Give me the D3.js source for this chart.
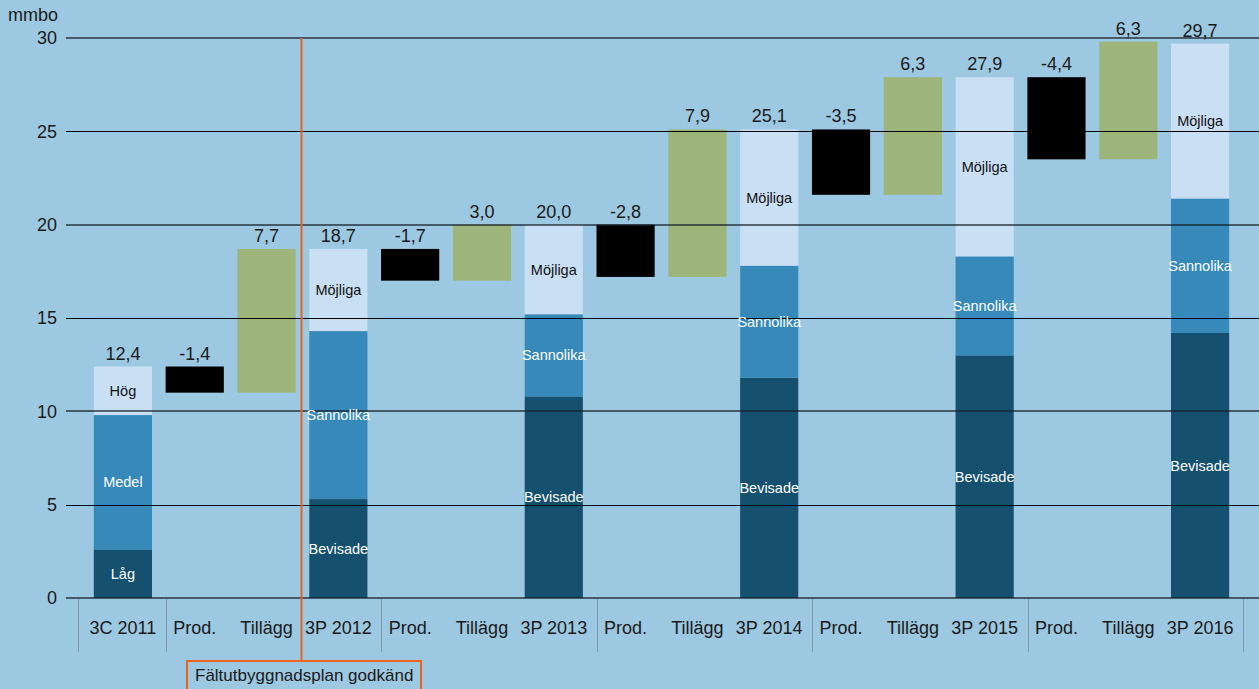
<!DOCTYPE html>
<html>
<head>
<meta charset="utf-8">
<script src="https://cdn.jsdelivr.net/npm/d3@7"></script>
<style>
  html, body { margin: 0; padding: 0; background: #9dc8e1; }
  svg { display: block; font-family: "Liberation Sans", Arial, sans-serif; }
</style>
</head>
<body>
<div id="chart"></div>
<script>
// categories along the x axis
var categories = ["3C 2011", "Prod.", "Tillägg", "3P 2012", "Prod.", "Tillägg", "3P 2013",
                  "Prod.", "Tillägg", "3P 2014", "Prod.", "Tillägg", "3P 2015",
                  "Prod.", "Tillägg", "3P 2016"];

// reserve totals per year, and the steps between them
var totals = [12.4, 18.7, 20.0, 25.1, 27.9, 29.7];
var prodValues = [-1.4, -1.7, -2.8, -3.5, -4.4];
var tillaggValues = [7.7, 3.0, 7.9, 6.3, 6.3];

// stacked parts of each total bar (bottom, middle, top)
var segBottom = [2.6, 5.3, 10.8, 11.8, 13.0, 14.2];
var segMiddle = [7.2, 9.0, 4.4, 6.0, 5.3, 7.2];
var segTop = [2.6, 4.4, 4.8, 7.3, 9.6, 8.3];
var segNames2011 = ["Låg", "Medel", "Hög"];
var segNames = ["Bevisade", "Sannolika", "Möjliga"];

var yTicks = [0, 5, 10, 15, 20, 25, 30];

//svg dimensions
var svgWidth = 1259;
var svgHeight = 689;

var colors = {
    bg: "#9dc8e1",
    bottom: "#15506e",
    middle: "#3689b8",
    top: "#c9dff3",
    prod: "#000000",
    tillagg: "#9db57b",
    orange: "#e8641e"
};

var svg = d3.select("#chart")
    .append("svg")
    .attr("width", svgWidth)
    .attr("height", svgHeight);

svg.append("rect").attr("width", svgWidth).attr("height", svgHeight).attr("fill", colors.bg);

//scales
var yScale = d3.scaleLinear().domain([0, 30]).range([598, 38]);
var xScale = d3.scaleBand()
    .domain(d3.range(categories.length))
    .range([87, 1236])
    .paddingInner(0.19)
    .paddingOuter(0.095);

//build the bars: totals are stacked, prod/tillägg float
var bars = [];
var labels = [];
var fmt = function(v){ return v.toFixed(1).replace(".", ","); };

totals.forEach(function(t, i){
    var idx = i * 3;
    var parts = [segBottom[i], segMiddle[i], segTop[i]];
    var names = i === 0 ? segNames2011 : segNames;
    var fills = [colors.bottom, colors.middle, colors.top];
    var base = 0;
    parts.forEach(function(p, j){
        bars.push({idx: idx, y0: base, y1: base + p, fill: fills[j], name: names[j], textColor: j === 2 ? "#111" : "#fff"});
        base += p;
    });
    labels.push({idx: idx, top: t, text: fmt(t)});

    if (i < prodValues.length) {
        var pStart = t;
        var pEnd = t + prodValues[i];
        bars.push({idx: idx + 1, y0: pEnd, y1: pStart, fill: colors.prod});
        labels.push({idx: idx + 1, top: pStart, text: fmt(prodValues[i])});
        var tEnd = pEnd + tillaggValues[i];
        bars.push({idx: idx + 2, y0: pEnd, y1: tEnd, fill: colors.tillagg});
        labels.push({idx: idx + 2, top: tEnd, text: fmt(tillaggValues[i])});
    }
});

//draw bars
svg.append("g").selectAll("rect")
    .data(bars)
    .enter()
    .append("rect")
    .attr("x", d => xScale(d.idx))
    .attr("width", xScale.bandwidth())
    .attr("y", d => yScale(d.y1))
    .attr("height", d => yScale(d.y0) - yScale(d.y1))
    .attr("fill", d => d.fill);

//gridlines on top of bars
svg.append("g").selectAll("line")
    .data(yTicks)
    .enter()
    .append("line")
    .attr("x1", 66)
    .attr("x2", svgWidth)
    .attr("y1", d => Math.round(yScale(d)) + (d % 10 === 0 ? 0 : 0.5))
    .attr("y2", d => Math.round(yScale(d)) + (d % 10 === 0 ? 0 : 0.5))
    .attr("stroke", d => d % 10 === 0 ? "rgba(20,30,40,0.65)" : "#000")
    .attr("stroke-width", d => d % 10 === 0 ? 2 : 1);

//y tick labels
svg.append("g").selectAll("text")
    .data(yTicks)
    .enter()
    .append("text")
    .attr("x", 57)
    .attr("y", d => yScale(d))
    .attr("dy", "0.35em")
    .attr("text-anchor", "end")
    .attr("font-size", 18)
    .attr("fill", "#1a1a1a")
    .text(d => d);

svg.append("text")
    .attr("x", 8)
    .attr("y", 21)
    .attr("font-size", 18)
    .attr("fill", "#1a1a1a")
    .text("mmbo");

//segment labels
svg.append("g").selectAll("text")
    .data(bars.filter(d => d.name))
    .enter()
    .append("text")
    .attr("x", d => xScale(d.idx) + xScale.bandwidth() / 2)
    .attr("y", d => yScale((d.y0 + d.y1) / 2))
    .attr("dy", "0.35em")
    .attr("text-anchor", "middle")
    .attr("font-size", 14.5)
    .attr("fill", d => d.textColor)
    .text(d => d.name);

//value labels
svg.append("g").selectAll("text")
    .data(labels)
    .enter()
    .append("text")
    .attr("x", d => xScale(d.idx) + xScale.bandwidth() / 2)
    .attr("y", d => yScale(d.top) - 7)
    .attr("text-anchor", "middle")
    .attr("font-size", 18)
    .attr("fill", "#1a1a1a")
    .text(d => d.text);

//category labels
svg.append("g").selectAll("text")
    .data(categories)
    .enter()
    .append("text")
    .attr("x", (d, i) => xScale(i) + xScale.bandwidth() / 2)
    .attr("y", 634)
    .attr("text-anchor", "middle")
    .attr("font-size", 18)
    .attr("fill", "#1a1a1a")
    .text(d => d);

//group separators under the axis
var sepX = [xScale(0) - 16].concat([0, 3, 6, 9, 12, 15].map(i => xScale(i) + xScale.bandwidth() + 14));
svg.append("g").selectAll("line")
    .data(sepX)
    .enter()
    .append("line")
    .attr("x1", d => Math.round(d) + 0.5)
    .attr("x2", d => Math.round(d) + 0.5)
    .attr("y1", 599)
    .attr("y2", 652)
    .attr("stroke", "#7f97a8")
    .attr("stroke-width", 1);

//milestone marker
var markerX = 301.5;
svg.append("line")
    .attr("x1", markerX).attr("x2", markerX)
    .attr("y1", yScale(30)).attr("y2", 661)
    .attr("stroke", colors.orange)
    .attr("stroke-width", 2);

svg.append("rect")
    .attr("x", 187)
    .attr("y", 661)
    .attr("width", 234)
    .attr("height", 40)
    .attr("fill", "none")
    .attr("stroke", colors.orange)
    .attr("stroke-width", 2);

svg.append("text")
    .attr("x", 195)
    .attr("y", 681)
    .attr("font-size", 17)
    .attr("fill", "#1a1a1a")
    .text("Fältutbyggnadsplan godkänd");
</script>
</body>
</html>
